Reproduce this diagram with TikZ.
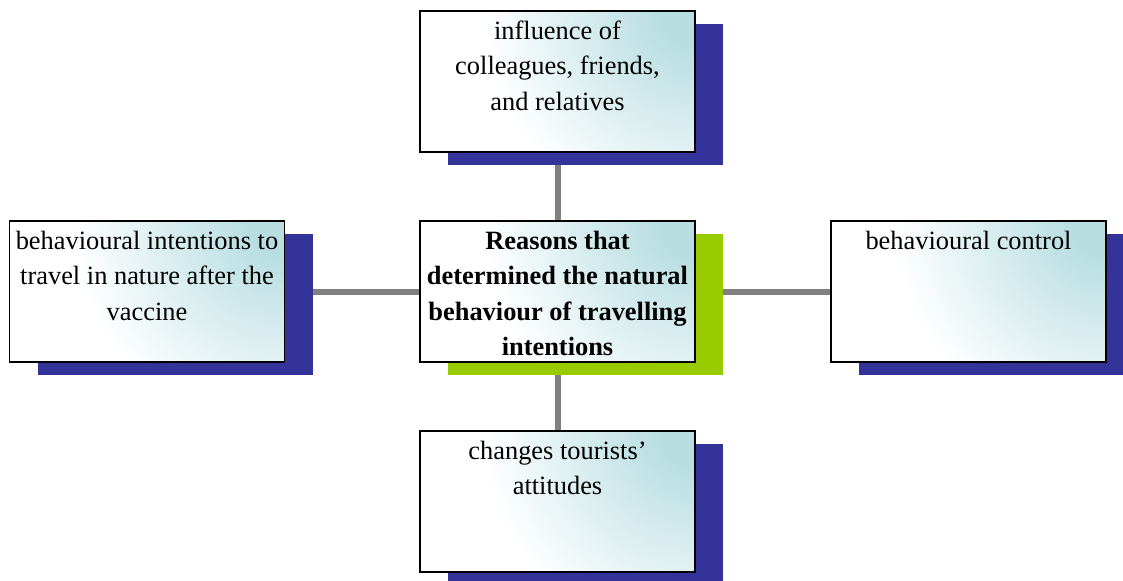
\documentclass[tikz,border=0pt]{standalone}
\usepackage{fontspec}
\setmainfont{Liberation Serif}
\usetikzlibrary{shadows, backgrounds, positioning}
\definecolor{boxteal}{RGB}{184,222,226}
\definecolor{shadeblue}{RGB}{51,51,153}
\definecolor{shadegreen}{RGB}{153,204,0}
\definecolor{linkgray}{RGB}{128,128,128}
\pgfdeclareradialshading{boxglow}{\pgfpoint{0bp}{0bp}}{color(0bp)=(boxteal); color(2bp)=(boxteal); color(12bp)=(white); color(50bp)=(white)}
\tikzset{
	box/.style={draw=black, line width=1.3pt, minimum width=206.25pt, minimum height=105.75pt, inner sep=0pt,
		fill=white,
		path picture={\shade[shading=boxglow]
			(path picture bounding box.north east) circle (330pt);},
		general shadow={fill=#1, shadow xshift=21pt, shadow yshift=-9.75pt}},
	box/.default=shadeblue,
	txt/.style={anchor=north, align=center, inner sep=0pt, yshift=-8pt, font=\fontsize{19.8}{26.5}\selectfont},
	txtbold/.style={txt, font=\fontsize{19.8}{26.5}\selectfont\bfseries},
	link/.style={draw=linkgray, line width=4.5pt}
}

\begin{document}
\begin{tikzpicture}[x=0.75pt,y=-0.75pt]
	\useasboundingbox (0,0) rectangle (1123,581);

	\node[box] (top)	at (557.5,81.5)	{};
	\node[box=shadegreen] (mid)	at (557.5,291.5)	{};
	\node[box] (left)	at (147,291.5)	{};
	\node[box] (right)	at (968.5,291.5)	{};
	\node[box] (bottom)	at (557.5,501.5)	{};

	\begin{scope}[on background layer]
		\draw[link] (top) -- (mid);
		\draw[link] (left) -- (mid);
		\draw[link] (mid) -- (right);
		\draw[link] (mid) -- (bottom);
	\end{scope}

	\node[txt] (top-t)	at (top.north)	{influence of\\colleagues, friends,\\and relatives};
	\node[txtbold] (mid-t)	at (mid.north)	{Reasons that\\determined the natural\\behaviour of travelling\\intentions};
	\node[txt] (left-t)	at (left.north)	{behavioural intentions to\\travel in nature after the\\vaccine};
	\node[txt] (right-t)	at (right.north)	{behavioural control};
	\node[txt] (bottom-t)	at (bottom.north)	{changes tourists'\\attitudes};
\end{tikzpicture}
\end{document}
